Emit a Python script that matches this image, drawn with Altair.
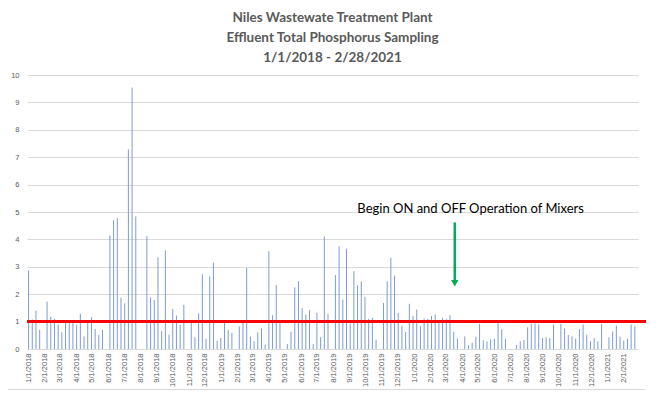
import altair as alt
import pandas as pd

# Weekly effluent total phosphorus samples (mg/L), first sample 1/1/2018; None = no sample that week
START_DATE = "2018-01-01"
VALUES = [
    2.87, 1.08, 1.40, 0.70, None, 1.73, 1.18, 1.10, 0.89, 0.61,
    0.98, 1.00, 0.98, 0.89, 1.29, 0.46, 0.98, 1.16, 0.73, 0.52,
    0.70, None, 4.15, 4.70, 4.77, 1.87, 1.67, 7.28, 9.54, 4.84,
    None, None, 4.12, 1.88, 1.79, 3.35, 0.65, 3.60, 0.52, 1.46,
    1.22, 0.89, 1.61, None, 1.00, 0.43, 1.30, 2.73, 0.37, 2.65,
    3.15, 0.30, 0.40, 1.00, 0.70, 0.59, None, 0.82, 0.97, 2.96,
    0.45, 0.28, 0.61, 0.76, 0.16, 3.57, 1.23, 2.33, 0.98, None,
    0.18, 0.63, 2.25, 2.48, 1.49, 1.26, 1.42, 0.18, 1.32, 0.43,
    4.11, 1.27, None, 2.70, 3.75, 1.80, 3.66, 0.93, 2.84, 2.33,
    2.47, 1.90, 1.10, 1.13, 0.34, None, 1.68, 2.47, 3.33, 2.68,
    1.32, 0.85, 0.62, 1.65, 1.20, 1.44, 0.83, 1.11, 1.10, 1.20,
    1.26, 1.05, 1.14, 1.10, 1.23, 0.63, 0.38, None, 0.46, 0.13,
    0.23, 0.44, 0.91, 0.32, 0.28, 0.35, 0.37, 0.98, 0.72, 0.37,
    None, None, 0.15, 0.28, 0.33, 0.79, 0.92, 0.93, 0.89, 0.40,
    0.43, 0.40, 0.89, None, 0.92, 0.75, 0.51, 0.46, 0.38, 0.73,
    0.89, 0.52, 0.28, 0.40, 0.28, 0.91, None, 0.43, 0.64, 0.85,
    0.45, 0.30, 0.38, 0.90, 0.83,
]
LIMIT = 1.0
Y_TICKS = list(range(0, 11))
TITLE_LINES = [
    "Niles Wastewate Treatment Plant",
    "Effluent Total Phosphorus Sampling",
    "1/1/2018 - 2/28/2021",
]
NOTE_TEXT = "Begin ON and OFF Operation of Mixers"
NOTE_DATE = "2020-04-17"
NOTE_Y = 4.97
ARROW_DATE = "2020-03-18"
ARROW_TOP = 4.62
ARROW_BOTTOM = 2.45
ARROW_HEAD = 2.40

dates = pd.date_range(START_DATE, periods=len(VALUES), freq="7D")
df = pd.DataFrame({"date": dates, "tp": VALUES}).dropna()

tick_months = pd.date_range("2018-01-01", "2021-02-01", freq="MS")
tick_values = [alt.DateTime(year=int(d.year), month=int(d.month), date=1) for d in tick_months]

W, H = 611, 274
GRAY = "#595959"

x_scale = alt.Scale(domain=[alt.DateTime(year=2017, month=12, date=29),
                            alt.DateTime(year=2021, month=2, date=28)])
y_scale = alt.Scale(domain=[0, 10], nice=False)

x_axis = alt.Axis(values=tick_values, format="%-m/%-d/%Y", labelAngle=270,
                  labelFontSize=7.5, labelColor=GRAY, labelFont="Liberation Sans",
                  ticks=False, grid=False, domainColor="#d9d9d9",
                  labelPadding=4, labelOverlap=False, labelFlush=False, title=None)
y_axis = alt.Axis(values=Y_TICKS, labelFontSize=7.5, labelColor=GRAY,
                  labelFont="Liberation Sans", ticks=False, domain=False,
                  gridColor="#d9d9d9", labelPadding=8, labelOverlap=False, title=None)


def xenc(field):
    return alt.X(field, type="temporal", scale=x_scale, axis=x_axis, title=None)


def yenc(field):
    return alt.Y(field, type="quantitative", scale=y_scale, axis=y_axis, title=None)


bars = alt.Chart(df).mark_rule(strokeWidth=1, color="#7d9bd3").encode(
    x=xenc("date"),
    y=yenc("tp"),
    y2=alt.datum(0),
)

limit = alt.Chart(df).mark_rule(color="#ff0000", strokeWidth=2.5).encode(
    x=alt.value(0), x2=alt.value(W + 8),
    y=alt.YDatum(LIMIT, type="quantitative", scale=y_scale, axis=y_axis, title=None),
)

note_df = pd.DataFrame({"date": [NOTE_DATE], "y": [NOTE_Y], "t": [NOTE_TEXT]})
note = alt.Chart(note_df).mark_text(font="Lato", fontSize=13, color="#000000",
                                    align="center", baseline="alphabetic").encode(
    x=xenc("date"), y=yenc("y"), text="t:N",
)

arrow_df = pd.DataFrame({"date": [ARROW_DATE], "y1": [ARROW_TOP], "y2": [ARROW_BOTTOM],
                         "yh": [ARROW_HEAD]})
arrow_shaft = alt.Chart(arrow_df).mark_rule(color="#00b050", strokeWidth=2.5).encode(
    x=xenc("date"), y=yenc("y1"), y2="y2:Q",
)
arrow_head = alt.Chart(arrow_df).mark_point(shape="triangle-down", filled=True, opacity=1,
                                            color="#00b050", size=55).encode(
    x=xenc("date"), y=yenc("yh"),
)

border = alt.Chart(df).mark_rule(color="#d9d9d9", strokeWidth=1).encode(
    x=alt.value(-20), x2=alt.value(W + 7), y=alt.value(H + 41),
)

chart = alt.layer(bars, limit, note, arrow_shaft, arrow_head, border).properties(
    width=W, height=H,
    title=alt.TitleParams(text=TITLE_LINES, font="Lato", fontSize=13.5, fontWeight="bold",
                          color=GRAY, lineHeight=20, anchor="middle", offset=7),
    autosize=alt.AutoSizeParams(type="none"),
    padding={"left": 19, "top": 67, "right": 20, "bottom": 41},
).configure_view(stroke=None)

chart.save("out.html", embed_options={"renderer": "svg", "actions": False})
